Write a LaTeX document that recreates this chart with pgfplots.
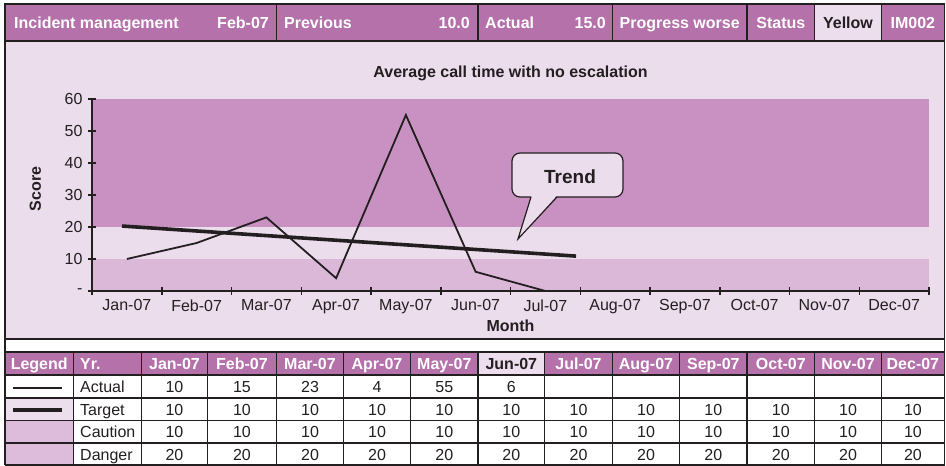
\documentclass[border=0pt]{standalone}
\usepackage{fontspec}
\setmainfont{Liberation Sans}
\usepackage{pgfplots}
\pgfplotsset{compat=1.18}
\definecolor{hdr}{HTML}{B571AA}
\definecolor{lite}{HTML}{ECDEEC}
\definecolor{bg}{HTML}{ECDDEC}
\definecolor{danger}{HTML}{C991C1}
\definecolor{lowband}{HTML}{DBB8D8}
\definecolor{legcell}{HTML}{DDBBDA}
\definecolor{ink}{HTML}{231F20}
\newcommand\fs{\fontsize{16}{19}\selectfont}
\begin{document}
\begin{tikzpicture}[x=1pt,y=1pt,
  txt/.style={inner sep=0pt,text height=11.5pt,text depth=0pt,font=\fs,text=ink},
  wtxt/.style={txt,text=white,font=\fs\bfseries},
  grid/.style={draw=ink,line width=1.2pt}]
\path[fill=white] (0,0) rectangle (946,466);
% ---------------- header bar
\fill[hdr] (5,425) rectangle (944.5,462);
\fill[lite] (814.7,425) rectangle (881.3,462);
\draw[grid] (5,425) rectangle (944.5,462);
\foreach \x in {276.7,478,612.3,747,814.7,881.3} \draw[grid] (\x,425)--(\x,462);
\node[wtxt,anchor=west] at (14,443.5) {Incident management};
\node[wtxt,anchor=east] at (269,443.5) {Feb-07};
\node[wtxt,anchor=west] at (284,443.5) {Previous};
\node[wtxt,anchor=east] at (470,443.5) {10.0};
\node[wtxt,anchor=west] at (485,443.5) {Actual};
\node[wtxt,anchor=east] at (606,443.5) {15.0};
\node[wtxt,anchor=west] at (619.5,443.5) {Progress worse};
\node[wtxt] at (780.85,443.5) {Status};
\node[txt,font=\fs\bfseries] at (848,443.5) {Yellow};
\node[wtxt] at (912.9,443.5) {IM002};
% ---------------- chart panel
\fill[bg] (5,127) rectangle (944.5,425);
\draw[grid] (5,127) rectangle (944.5,425);
\node[txt,font=\fs\bfseries] at (510.5,394) {Average call time with no escalation};
\node[txt,font=\fs\bfseries,rotate=90] at (35,277) {Score};
\node[txt,font=\fs\bfseries] at (510.5,140) {Month};
\begin{axis}[
  at={(92pt,175pt)}, anchor=south west, scale only axis,
  width=837pt, height=192pt,
  xmin=0, xmax=12, ymin=0, ymax=60,
  axis x line=bottom, axis y line=left,
  axis line style={-,line width=1.5pt,draw=ink},
  axis on top,
  xtick={0,1,...,12}, x tick label as interval,
  xticklabels={Jan-07,Feb-07,Mar-07,Apr-07,May-07,Jun-07,Jul-07,Aug-07,Sep-07,Oct-07,Nov-07,Dec-07},
  ytick={0,10,...,60}, yticklabels={-,10,20,30,40,50,60},
  tick align=center, major tick length=8pt,
  tick style={line width=1.5pt,draw=ink},
  /pgf/number format/assume math mode=true,
  ticklabel style={font=\fs,text=ink},
  yticklabel style={xshift=-2pt},
  xticklabel style={yshift=-1pt},
  clip=false,
]
\addplot[fill=lowband,draw=none] coordinates {(0,0) (12,0) (12,10) (0,10)} -- cycle;
\addplot[fill=bg,draw=none] coordinates {(0,10) (12,10) (12,20) (0,20)} -- cycle;
\addplot[fill=danger,draw=none] coordinates {(0,20) (12,20) (12,60) (0,60)} -- cycle;
% Actual
\addplot[ink,line width=1.8pt,line join=miter] coordinates {
 (0.5,10) (1.5,15) (2.5,23) (3.5,4) (4.5,55) (5.5,6) (6.5,0)};
% Trend
\addplot[ink,line width=3.6pt] coordinates {(0.43,20.3) (6.94,10.9)};
\end{axis}
% callout
\draw[ink,fill=bg,line width=1.2pt,rounded corners=8pt] (512,269) rectangle (623,313);
\fill[bg] (531.5,270.2) -- (518,227) -- (556.5,270.2) -- cycle;
\draw[ink,line width=1.2pt,line join=miter] (531,269) -- (518,227) -- (557,269);
\node[txt,font=\fontsize{19}{22}\selectfont\bfseries,text height=13.6pt] at (570,289) {Trend};
% ---------------- table
\draw[grid] (5,114) rectangle (944.5,127);
\fill[hdr] (5,91) rectangle (944.5,114);
\fill[lite] (478,91) rectangle (544.7,114);
\fill[lite] (5,45.5) rectangle (73.3,68);
\fill[legcell] (5,1) rectangle (73.3,45.5);
\foreach \y in {114,91,68,45.5,23,1} \draw[grid] (5,\y)--(944.5,\y);
\foreach \x in {5,73.3,141.7,207.3,276.7,343.3,410.7,478,544.7,612.3,679.7,747,814.7,881.3,944.5}
  \draw[grid] (\x,1)--(\x,114);
\draw[ink,line width=1.8pt] (13,78.3)--(62,78.3);
\draw[ink,line width=3.6pt] (13,55.7)--(62,55.7);
\node[wtxt] at (39.2,102.5) {Legend};
\node[wtxt,anchor=west] at (80,102.5) {Yr.};
\foreach \x/\m in {174.5/Jan-07,242/Feb-07,310/Mar-07,377/Apr-07,444.35/May-07,578.5/Jul-07,646/Aug-07,713.35/Sep-07,780.85/Oct-07,848/Nov-07,912.9/Dec-07}
  \node[wtxt] at (\x,102.5) {\m};
\node[txt,font=\fs\bfseries] at (511.35,102.5) {Jun-07};
\node[txt,anchor=west] at (80,79.5) {Actual};
\node[txt,anchor=west] at (80,56.5) {Target};
\node[txt,anchor=west] at (80,34) {Caution};
\node[txt,anchor=west] at (80,11.5) {Danger};
\foreach \x/\v in {174.5/10,242/15,310/23,377/4,444.35/55,511.35/6}
  \node[txt] at (\x,79.5) {\v};
\foreach \x in {174.5,242,310,377,444.35,511.35,578.5,646,713.35,780.85,848,912.9}{
  \node[txt] at (\x,56.5) {10};
  \node[txt] at (\x,34) {10};
  \node[txt] at (\x,11.5) {20};
}
\end{tikzpicture}
\end{document}
